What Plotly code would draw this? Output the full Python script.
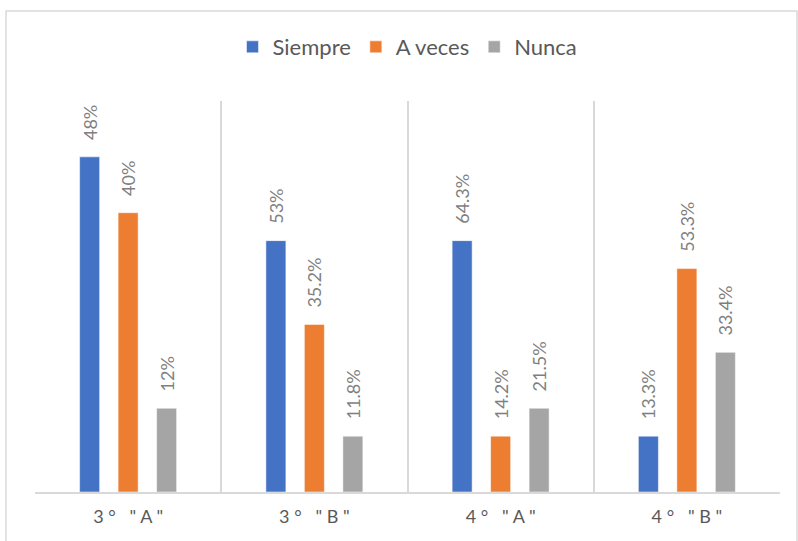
import plotly.graph_objects as go

categories = ['3 °   " A "', '3 °   " B "', '4 °   " A "', '4 °   " B "']
series_names = ["Siempre", "A veces", "Nunca"]
siempre_counts = [12, 9, 9, 2]
aveces_counts = [10, 6, 2, 8]
nunca_counts = [3, 2, 3, 5]
siempre_labels = ["48%", "53%", "64.3%", "13.3%"]
aveces_labels = ["40%", "35.2%", "14.2%", "53.3%"]
nunca_labels = ["12%", "11.8%", "21.5%", "33.4%"]
colors = ["#4472C4", "#ED7D31", "#A5A5A5"]

FONT = "Lato"
fig = go.Figure()
for name, vals, labs, col in zip(series_names,
                                 [siempre_counts, aveces_counts, nunca_counts],
                                 [siempre_labels, aveces_labels, nunca_labels],
                                 colors):
    fig.add_trace(go.Bar(
        name=name, x=categories, y=vals, text=labs,
        texttemplate="\u00a0\u00a0\u00a0%{text}",
        textposition="outside", textangle=-90, constraintext="none",
        textfont=dict(family=FONT, size=18, color="#7F7F7F"),
        marker=dict(color=col, line=dict(color="rgba(255,255,255,0.5)", width=1)),
        cliponaxis=False,
    ))

fig.update_layout(
    width=798, height=541,
    margin=dict(l=35, r=18, t=101, b=49),
    paper_bgcolor="white", plot_bgcolor="white",
    barmode="group", bargap=0.38, bargroupgap=0.48,
    font=dict(family=FONT, color="#595959"),
    legend=dict(orientation="h", x=0.5, xanchor="center", y=1.138, yanchor="middle",
                font=dict(family=FONT, size=22, color="#595959"),
                itemwidth=30, traceorder="normal"),
    xaxis=dict(tickson="boundaries", showgrid=True, gridcolor="#D9D9D9", gridwidth=1.5,
               showline=True, linecolor="#D9D9D9", linewidth=1.5, ticks="",
               tickfont=dict(family=FONT, size=18, color="#595959"),
               ticklabelstandoff=8),
    yaxis=dict(range=[0, 14], showgrid=False, showticklabels=False, zeroline=False,
               showline=False),
    shapes=[dict(type="rect", xref="paper", yref="paper",
                 x0=(6 - 35) / 745, x1=(797 - 35) / 745,
                 y0=(492 - 548) / 391, y1=(492 - 11) / 391,
                 line=dict(color="#D9D9D9", width=1.5), fillcolor="rgba(0,0,0,0)",
                 layer="below")],
)
fig.write_html("out.html", config={"displayModeBar": False},
               post_script="document.body.style.margin='0';")
